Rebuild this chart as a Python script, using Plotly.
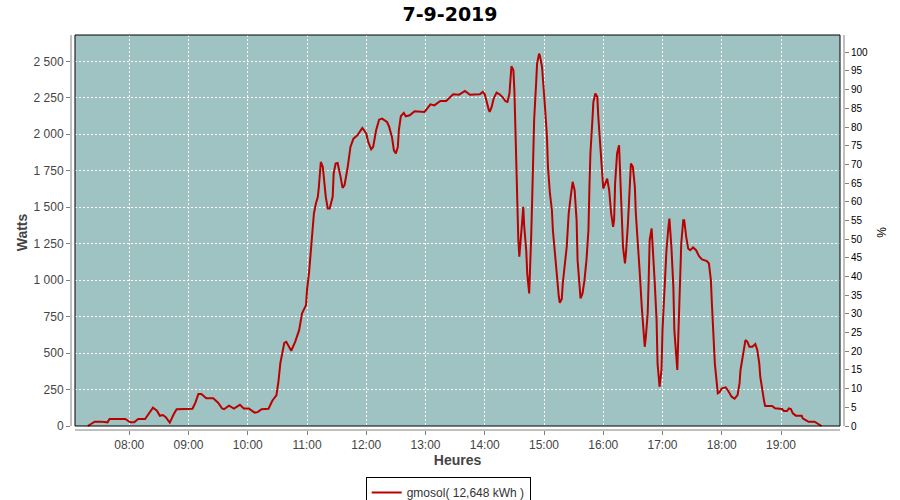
import plotly.graph_objects as go

DAY = "2019-09-07"

times = [
    "07:18", "07:25", "07:31", "07:38", "07:40", "07:56", "08:01", "08:05", "08:09", "08:16",
    "08:24", "08:28", "08:31", "08:34", "08:37", "08:41", "08:45", "08:48", "09:04", "09:07",
    "09:10", "09:13", "09:18", "09:25", "09:30", "09:34", "09:36", "09:41", "09:46", "09:52",
    "09:56", "10:01", "10:07", "10:10", "10:14", "10:21", "10:25", "10:29", "10:31", "10:33",
    "10:37", "10:39", "10:44", "10:48", "10:52", "10:55", "10:59", "11:00", "11:02", "11:04",
    "11:05", "11:07", "11:09", "11:11", "11:12", "11:14", "11:16", "11:17", "11:19", "11:21",
    "11:23", "11:26", "11:27", "11:29", "11:31", "11:34", "11:36", "11:38", "11:41", "11:44",
    "11:47", "11:51", "11:56", "12:00", "12:02", "12:05", "12:07", "12:10", "12:13", "12:16",
    "12:21", "12:23", "12:26", "12:28", "12:30", "12:32", "12:33", "12:35", "12:38", "12:40",
    "12:44", "12:49", "12:59", "13:05", "13:09", "13:15", "13:21", "13:28", "13:34", "13:40",
    "13:45", "13:55", "13:58", "14:00", "14:02", "14:04", "14:05", "14:07", "14:09", "14:12",
    "14:15", "14:18", "14:21", "14:23", "14:25", "14:26", "14:27", "14:29", "14:30", "14:31",
    "14:32", "14:33", "14:34", "14:35", "14:37", "14:38", "14:39", "14:40", "14:42", "14:43",
    "14:45", "14:46", "14:47", "14:48", "14:49", "14:50", "14:52", "14:53", "14:55", "14:56",
    "14:58", "14:59", "15:01", "15:03", "15:04", "15:06", "15:08", "15:09", "15:11", "15:13",
    "15:15", "15:16", "15:18", "15:19", "15:21", "15:23", "15:24", "15:25", "15:27", "15:29",
    "15:31", "15:33", "15:34", "15:36", "15:37", "15:39", "15:41", "15:43", "15:45", "15:46",
    "15:47", "15:49", "15:50", "15:52", "15:54", "15:55", "15:57", "15:59", "16:00", "16:02",
    "16:04", "16:06", "16:08", "16:10", "16:11", "16:12", "16:14", "16:16", "16:17", "16:18",
    "16:20", "16:22", "16:23", "16:25", "16:27", "16:28", "16:30", "16:32", "16:33", "16:35",
    "16:37", "16:39", "16:41", "16:42", "16:43", "16:45", "16:46", "16:47", "16:49", "16:50",
    "16:52", "16:54", "16:55", "16:57", "16:59", "17:00", "17:02", "17:04", "17:06", "17:07",
    "17:09", "17:11", "17:12", "17:14", "17:15", "17:16", "17:18", "17:19", "17:21", "17:22",
    "17:24", "17:26", "17:28", "17:31", "17:34", "17:37", "17:40", "17:45", "17:47", "17:49",
    "17:50", "17:52", "17:53", "17:55", "17:56", "17:58", "18:00", "18:04", "18:06", "18:10",
    "18:13", "18:16", "18:18", "18:19", "18:21", "18:23", "18:24", "18:26", "18:28", "18:31",
    "18:34", "18:36", "18:38", "18:39", "18:41", "18:43", "18:44", "18:51", "18:54", "19:01",
    "19:03", "19:06", "19:08", "19:10", "19:12", "19:15", "19:21", "19:22", "19:25", "19:28",
    "19:34", "19:37", "19:39", "19:41",
]

watts = [
    0, 30, 30, 25, 48, 48, 25, 25, 48, 48,
    125, 105, 70, 75, 60, 23, 80, 115, 118, 160,
    220, 220, 190, 190, 160, 120, 115, 140, 120, 145,
    120, 120, 92, 95, 115, 118, 175, 210, 300, 431,
    570, 577, 516, 577, 657, 772, 829, 932, 1046, 1228,
    1342, 1457, 1525, 1571, 1639, 1810, 1776, 1685, 1571, 1491,
    1491, 1571, 1731, 1799, 1803, 1708, 1632, 1651, 1765, 1913,
    1970, 1993, 2043, 2005, 1947, 1897, 1913, 2027, 2100, 2107,
    2084, 2055, 1982, 1890, 1868, 1913, 2027, 2123, 2146, 2123,
    2130, 2158, 2153, 2205, 2198, 2228, 2228, 2274, 2271, 2297,
    2271, 2274, 2290, 2274, 2210, 2169, 2153, 2187, 2244, 2285,
    2274, 2255, 2226, 2221, 2279, 2416, 2466, 2438, 2301, 2050,
    1776, 1502, 1274, 1160, 1297, 1411, 1502, 1365, 1205, 1046,
    909, 1068, 1297, 1548, 1845, 2096, 2347, 2484, 2553, 2534,
    2461, 2347, 2187, 1982, 1776, 1594, 1479, 1342, 1183, 1000,
    886, 845, 870, 977, 1091, 1228, 1342, 1457, 1571, 1674,
    1616, 1411, 1137, 954, 874, 909, 1000, 1137, 1342, 1639,
    1868, 2096, 2221, 2279, 2255, 2119, 1913, 1731, 1628, 1662,
    1696, 1616, 1457, 1365, 1411, 1662, 1868, 1925, 1753, 1479,
    1228, 1114, 1183, 1388, 1639, 1799, 1776, 1639, 1457, 1274,
    1046, 817, 635, 543, 600, 772, 1000, 1274, 1354, 1251,
    1000, 726, 429, 269, 384, 657, 954, 1205, 1365, 1422,
    1228, 954, 657, 452, 384, 612, 954, 1251, 1411, 1411,
    1297, 1217, 1205, 1224, 1205, 1164, 1142, 1130, 1114, 1000,
    840, 612, 429, 292, 224, 233, 258, 265, 247, 201,
    187, 212, 292, 384, 475, 555, 589, 577, 543, 543,
    562, 521, 429, 338, 235, 166, 137, 137, 121, 116,
    103, 103, 121, 116, 87, 71, 71, 53, 41, 29,
    29, 14, 8, 0,
]

hour_ticks = ["08:00", "09:00", "10:00", "11:00", "12:00", "13:00",
              "14:00", "15:00", "16:00", "17:00", "18:00", "19:00"]

title_text = "7-9-2019"
series_name = "gmosol( 12,648 kWh )"
x_title = "Heures"
y_title = "Watts"
y2_title = "%"

x_stamps = [f"{DAY} {t}" for t in times]
x_tickvals = [f"{DAY} {t}" for t in hour_ticks]

# pixel geometry of the frame (900x500 canvas)
L, R, T, B = 71, 844, 35, 430          # axis-domain box
PL, PR, PT, PB = 75, 840, 35, 426      # teal plotting area


def px(xp):
    return (xp - L) / (R - L)


def py(yp):
    return (B - yp) / (B - T)


TEAL = "#9fc3c2"
RED = "#bb0000"
GRAY = "#808080"
TXT = "#444444"
FONT = "Liberation Sans, Arial, sans-serif"

fig = go.Figure()
fig.add_trace(go.Scatter(
    x=x_stamps, y=watts, mode="lines", name=series_name,
    line=dict(color=RED, width=2), showlegend=True,
))
fig.add_trace(go.Scatter(x=[None], y=[None], yaxis="y2", showlegend=False, hoverinfo="skip"))

shapes = [
    dict(type="rect", xref="paper", yref="paper", x0=px(PL), x1=px(PR), y0=py(PB), y1=py(PT),
         fillcolor=TEAL, line=dict(width=0), layer="below"),
    dict(type="rect", xref="paper", yref="paper", x0=px(PL), x1=px(PR), y0=py(PB), y1=py(PT),
         fillcolor="rgba(0,0,0,0)", line=dict(color="black", width=1), layer="above"),
    dict(type="line", xref="paper", yref="paper", x0=0, x1=0, y0=py(PB), y1=py(PT),
         line=dict(color=GRAY, width=1)),
    dict(type="line", xref="paper", yref="paper", x0=1, x1=1, y0=py(PB), y1=py(PT),
         line=dict(color=GRAY, width=1)),
    dict(type="line", xref="paper", yref="paper", x0=px(PL), x1=px(PR), y0=0, y1=0,
         line=dict(color=GRAY, width=1)),
]

fig.update_layout(
    width=900, height=500,
    margin=dict(l=L, r=900 - R, t=T, b=500 - B, pad=0, autoexpand=False),
    paper_bgcolor="white", plot_bgcolor="rgba(0,0,0,0)",
    separators=", ",
    font=dict(family=FONT, size=12, color=TXT),
    title=dict(text=title_text, x=0.5, xref="container", xanchor="center",
               y=1 - 14 / 500, yref="container", yanchor="middle",
               font=dict(family="DejaVu Sans, sans-serif", size=19, color="black", weight="bold")),
    xaxis=dict(
        type="date", automargin=False,
        range=[f"{DAY} 07:01:00", f"{DAY} 20:03:48"],
        tickmode="array", tickvals=x_tickvals, ticktext=hour_ticks,
        showgrid=True, gridcolor="white", griddash="2px,2px", gridwidth=1,
        ticks="outside", ticklen=4, tickcolor=GRAY,
        tickfont=dict(family=FONT, size=12, color=TXT),
        showline=False, zeroline=False,
        title=dict(text=x_title, standoff=3,
                   font=dict(family=FONT, size=14, color=TXT, weight="bold")),
    ),
    yaxis=dict(
        automargin=False,
        range=[-27.4, 2680.3], dtick=250, tick0=0,
        separatethousands=True,
        showgrid=True, gridcolor="white", griddash="2px,2px", gridwidth=1,
        ticks="outside", ticklen=4, tickcolor=GRAY,
        tickfont=dict(family=FONT, size=12, color=TXT),
        showline=False, zeroline=False,
        title=dict(text=y_title, standoff=2,
                   font=dict(family=FONT, size=14, color=TXT, weight="bold")),
    ),
    yaxis2=dict(
        automargin=False,
        overlaying="y", side="right", anchor="x",
        range=[-1.07, 104.63], dtick=5, tick0=0,
        showgrid=False, zeroline=False, showline=False,
        ticks="outside", ticklen=4, tickcolor=GRAY,
        tickfont=dict(family=FONT, size=10, color="black"),
        title=dict(text=y2_title, standoff=10,
                   font=dict(family=FONT, size=12, color="black")),
    ),
    legend=dict(
        orientation="h", xref="container", yref="container",
        x=0.498, xanchor="center", y=1 - 477 / 500, yanchor="top",
        bordercolor="black", borderwidth=1, bgcolor="white",
        font=dict(family=FONT, size=12, color="#333333"),
        itemwidth=30, tracegroupgap=0,
    ),
    shapes=shapes,
)

fig.write_html(
    "out.html",
    config={"displayModeBar": False},
    post_script="document.body.style.margin='0px';document.body.style.padding='0px';",
)
